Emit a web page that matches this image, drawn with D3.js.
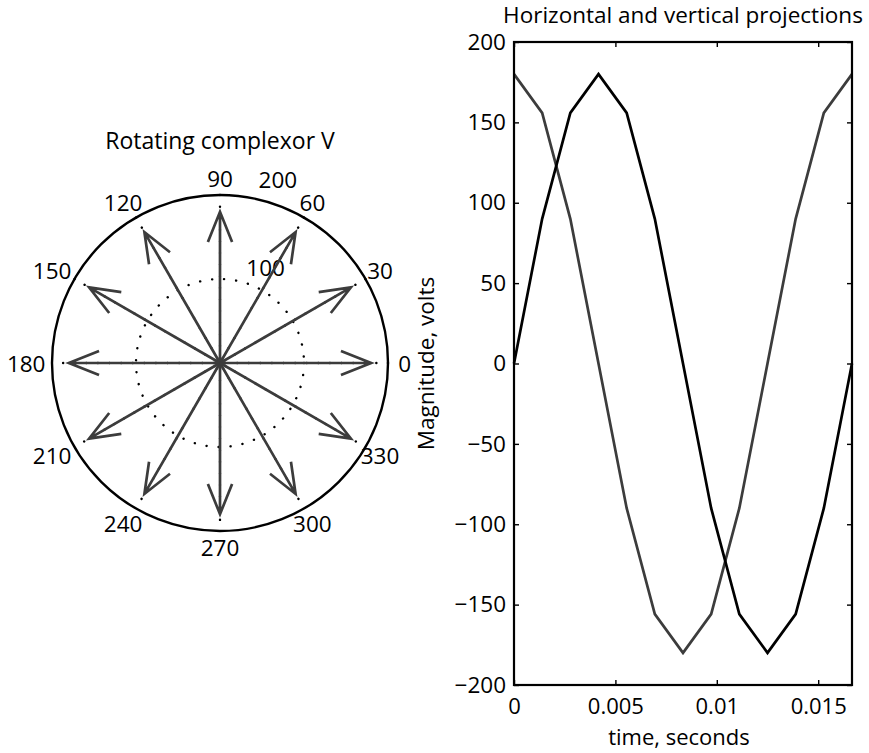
<!DOCTYPE html>
<html>
<head>
<meta charset="utf-8">
<script src="https://cdn.jsdelivr.net/npm/d3@7"></script>
<style>
  html, body { margin: 0; padding: 0; background: #fff; }
  svg { display: block; font-family: "Open Sans", "Noto Sans", sans-serif; }
  text { fill: #000; }
</style>
</head>
<body>
<svg id="chart" width="869" height="753"></svg>
<script>
// Phasor V = 180 V at 60 Hz, shown at twelve 30-degree steps
const phasorAngles = [0, 30, 60, 90, 120, 150, 180, 210, 240, 270, 300, 330];
const phasorMagnitudes = [180, 180, 180, 180, 180, 180, 180, 180, 180, 180, 180, 180];

// Polar grid
const ringValues = [100, 200];
const ringLabels = ["100", "200"];
const spokeAngles = [0, 30, 60, 90, 120, 150];
const angleLabels = ["0", "30", "60", "90", "120", "150", "180", "210", "240", "270", "300", "330"];
const polarMax = 200;

// Projections sampled over one cycle
const time = [0, 0.0013889, 0.0027778, 0.0041667, 0.0055556, 0.0069444, 0.0083333,
              0.0097222, 0.0111111, 0.0125, 0.0138889, 0.0152778, 0.0166667];
const horizontal = [180, 155.88, 90, 0, -90, -155.88, -180, -155.88, -90, 0, 90, 155.88, 180];
const vertical = [0, 90, 155.88, 180, 155.88, 90, 0, -90, -155.88, -180, -155.88, -90, 0];

const yTicks = [-200, -150, -100, -50, 0, 50, 100, 150, 200];
const xTicks = [0, 0.005, 0.01, 0.015];
const xTickLabels = ["0", "0.005", "0.01", "0.015"];

const svg = d3.select("#chart");
const gray = "#3c3c3c";

// ---------- Left: compass plot ----------
const cx = 220, cy = 363, R = 168;
const rScale = d3.scaleLinear().domain([0, polarMax]).range([0, R]);
const rad = d => d * Math.PI / 180;
const px = (r, a) => cx + rScale(r) * Math.cos(rad(a));
const py = (r, a) => cy - rScale(r) * Math.sin(rad(a));

const polar = svg.append("g");

// dotted inner rings
polar.selectAll("circle.ring").data(ringValues.slice(0, -1)).join("circle")
  .attr("cx", cx).attr("cy", cy).attr("r", d => rScale(d))
  .attr("fill", "none").attr("stroke", "#000").attr("stroke-width", 2.4)
  .attr("stroke-linecap", "round").attr("stroke-dasharray", "0.1 12");

// dotted spokes across the full diameter
polar.selectAll("line.spoke").data(spokeAngles).join("line")
  .attr("x1", d => px(polarMax, d)).attr("y1", d => py(polarMax, d))
  .attr("x2", d => px(polarMax, d + 180)).attr("y2", d => py(polarMax, d + 180))
  .attr("stroke", "#000").attr("stroke-width", 2.4)
  .attr("stroke-linecap", "round").attr("stroke-dasharray", "0.1 11.5");

// solid outer circle
polar.append("circle")
  .attr("cx", cx).attr("cy", cy).attr("r", rScale(polarMax))
  .attr("fill", "none").attr("stroke", "#000").attr("stroke-width", 2.4);

// ring value labels along the 82-degree ray
polar.selectAll("text.ring").data(ringValues).join("text")
  .attr("x", d => px(d * 1.05, 82) + 14)
  .attr("y", d => py(d * 1.05, 82))
  .attr("font-size", 22.5)
  .text((d, i) => ringLabels[i]);

// arrows
const arrowPath = (mag, ang) => {
  // shaft plus two barbs at 80% length, offset 8% of length
  const a = rad(ang), c = Math.cos(a), s = Math.sin(a);
  const pt = (u, v) => {
    const x = u * c - v * s, y = u * s + v * c;
    return [cx + rScale(x), cy - rScale(y)];
  };
  const p0 = pt(0, 0), tip = pt(mag, 0), b1 = pt(0.8 * mag, 0.08 * mag), b2 = pt(0.8 * mag, -0.08 * mag);
  return `M${p0}L${tip}M${b1}L${tip}L${b2}`;
};
polar.selectAll("path.arrow").data(phasorAngles).join("path")
  .attr("d", (d, i) => arrowPath(phasorMagnitudes[i], d))
  .attr("fill", "none").attr("stroke", gray).attr("stroke-width", 2.7)
  .attr("stroke-linejoin", "miter");

// angle labels
polar.selectAll("text.angle").data(angleLabels).join("text")
  .attr("x", (d, i) => {
    const a = i * 30, c = Math.cos(rad(a));
    return px(polarMax * 1.1, a) + (c < -0.01 ? 9 * c : 0);
  })
  .attr("y", (d, i) => py(polarMax * 1.1, i * 30))
  .attr("text-anchor", "middle").attr("dominant-baseline", "central")
  .attr("font-size", 22.5)
  .text(d => d);

polar.append("text")
  .attr("x", cx).attr("y", 149)
  .attr("text-anchor", "middle").attr("font-size", 23)
  .text("Rotating complexor V");

// ---------- Right: projections ----------
const L = 514, Rt = 852, T = 42, B = 685;
const x = d3.scaleLinear().domain([0, 1 / 60]).range([L, Rt]);
const y = d3.scaleLinear().domain([-200, 200]).range([B, T]);

const plot = svg.append("g");

const fmtX = (d, i) => xTickLabels[i];
const xAxisG = plot.append("g").attr("transform", `translate(0,${B})`)
  .call(d3.axisBottom(x).tickValues(xTicks).tickFormat(fmtX).tickSizeInner(-5).tickSizeOuter(0).tickPadding(0));
plot.append("g").attr("transform", `translate(0,${T})`)
  .call(d3.axisTop(x).tickValues(xTicks).tickFormat("").tickSizeInner(-5).tickSizeOuter(0));
plot.append("g").attr("transform", `translate(${L},0)`)
  .call(d3.axisLeft(y).tickValues(yTicks).tickFormat(d3.format("d")).tickSizeInner(-5).tickSizeOuter(0).tickPadding(8));
plot.append("g").attr("transform", `translate(${Rt},0)`)
  .call(d3.axisRight(y).tickValues(yTicks).tickFormat("").tickSizeInner(-5).tickSizeOuter(0));

plot.selectAll(".domain").remove();
plot.selectAll(".tick line").attr("stroke", "#000").attr("stroke-width", 1.4);
plot.selectAll(".tick text").attr("font-size", 22.5).attr("font-family", "Open Sans").attr("fill", "#000");
// x tick labels: baseline 29px below the axis
xAxisG.selectAll(".tick text").attr("y", 29).attr("dy", null).attr("font-size", 22);

const line = d3.line().x(d => x(d[0])).y(d => y(d[1]));
plot.append("path").datum(time.map((t, i) => [t, horizontal[i]]))
  .attr("d", line).attr("fill", "none").attr("stroke", gray).attr("stroke-width", 2.7);
plot.append("path").datum(time.map((t, i) => [t, vertical[i]]))
  .attr("d", line).attr("fill", "none").attr("stroke", "#000").attr("stroke-width", 2.7);

// axes box
plot.append("rect").attr("x", L).attr("y", T).attr("width", Rt - L).attr("height", B - T)
  .attr("fill", "none").attr("stroke", "#000").attr("stroke-width", 2.2);

plot.append("text")
  .attr("x", (L + Rt) / 2).attr("y", 23)
  .attr("text-anchor", "middle").attr("font-size", 22.5)
  .text("Horizontal and vertical projections");

plot.append("text")
  .attr("x", (L + Rt) / 2 - 4).attr("y", 745)
  .attr("text-anchor", "middle").attr("font-size", 22)
  .text("time, seconds");

plot.append("text")
  .attr("transform", `translate(434,${(T + B) / 2}) rotate(-90)`)
  .attr("text-anchor", "middle").attr("font-size", 22.5)
  .text("Magnitude, volts");
</script>
</body>
</html>
